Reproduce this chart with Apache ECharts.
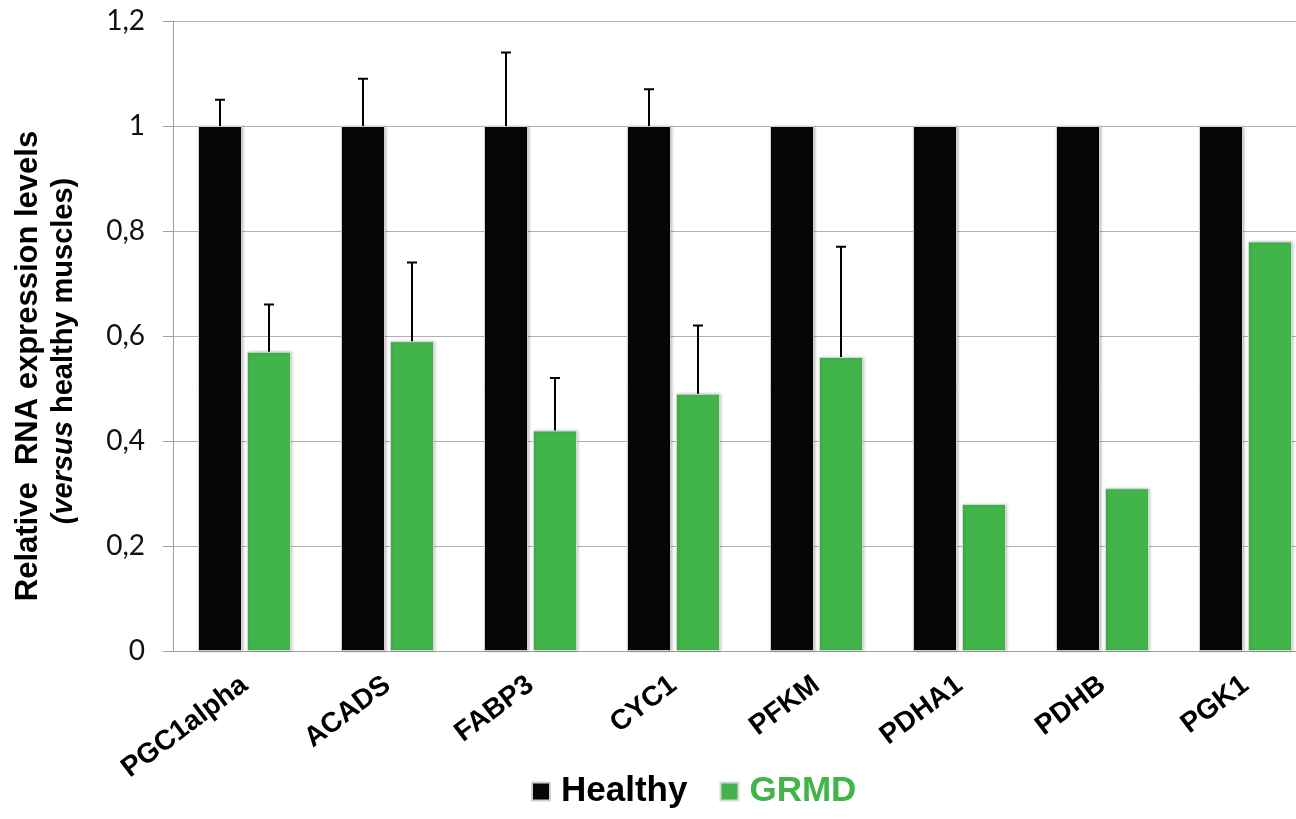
<!DOCTYPE html>
<html><head><meta charset="utf-8">
<script src="https://cdn.jsdelivr.net/npm/echarts@6/dist/echarts.min.js"></script>
<style>html,body{margin:0;padding:0;background:#fff}#c{width:1296px;height:819px}</style>
</head><body><div id="c"></div>
<script>
const categories = ['PGC1alpha','ACADS','FABP3','CYC1','PFKM','PDHA1','PDHB','PGK1'];
const healthy = [1,1,1,1,1,1,1,1];
const healthyErr = [0.05,0.09,0.14,0.07,null,null,null,null];
const grmd = [0.57,0.59,0.42,0.49,0.56,0.28,0.31,0.78];
const grmdErr = [0.09,0.15,0.10,0.13,0.21,null,null,null];
const yTicks = [0,0.2,0.4,0.6,0.8,1,1.2];

const BAR_W = 44, GAP = 5;
function errSeries(vals, errs, side) {
  return {
    type: 'custom', z: 5, silent: true,
    data: vals.map((v, i) => [i, v, errs[i]]),
    renderItem: function (params, api) {
      const e = api.value(2);
      if (e === null || e === undefined || isNaN(e)) return;
      const i = api.value(0), v = api.value(1);
      const p0 = api.coord([i, v]);
      const p1 = api.coord([i, v + e]);
      const x = p0[0] + side * (BAR_W + GAP) / 2;
      return { type: 'group', children: [
        { type: 'line', shape: { x1: x, y1: p0[1], x2: x, y2: p1[1] }, style: { stroke: '#000', lineWidth: 2 } },
        { type: 'line', shape: { x1: x - 5, y1: p1[1], x2: x + 5, y2: p1[1] }, style: { stroke: '#000', lineWidth: 2 } }
      ]};
    }
  };
}

const F = 'Liberation Sans, Arial, sans-serif';
const chart = echarts.init(document.getElementById('c'));
chart.setOption({
  animation: false,
  backgroundColor: '#fff',
  grid: { left: 173, right: -21, top: 21, bottom: 168, containLabel: false, outerBoundsMode: 'none' },
  legend: {
    bottom: 5, left: 526, itemWidth: 18, itemHeight: 18, itemGap: 32,
    icon: 'rect',
    textStyle: { fontFamily: F, fontWeight: 'bold', fontSize: 35, padding: [0, 0, 0, 6] },
    data: [
      { name: 'Healthy', textStyle: { color: '#000' } },
      { name: 'GRMD', textStyle: { color: '#41b549' } }
    ]
  },
  xAxis: {
    type: 'category', data: categories,
    axisLine: { lineStyle: { color: '#a0a0a0', width: 1 } },
    axisTick: { length: 10, lineStyle: { color: '#a0a0a0' } },
    axisLabel: { rotate: 37, margin: 31, color: '#000', fontFamily: F, fontWeight: 'bold', fontSize: 28 }
  },
  yAxis: {
    type: 'value', min: 0, max: 1.2, interval: 0.2,
    name: '{a|Relative  RNA expression levels}\n{i|(versus}{b| healthy muscles)}',
    nameLocation: 'middle', nameRotate: 90, nameGap: 92,
    nameTextStyle: {
      lineHeight: 35, padding: [0, 30, 0, 0],
      rich: {
        a: { fontFamily: F, fontWeight: 'bold', fontSize: 31, color: '#000', lineHeight: 35, padding: [0, 30, 0, 0] },
        b: { fontFamily: F, fontWeight: 'bold', fontSize: 29, color: '#000', lineHeight: 35 },
        i: { fontFamily: F, fontWeight: 'bold', fontStyle: 'italic', fontSize: 29, color: '#000', lineHeight: 35 }
      }
    },
    axisLine: { show: true, lineStyle: { color: '#a0a0a0' } },
    axisTick: { show: true, length: 10, lineStyle: { color: '#a0a0a0' } },
    splitLine: { lineStyle: { color: '#b0b0b0', width: 1 } },
    axisLabel: {
      margin: 28, color: '#111', fontFamily: 'Lato, sans-serif', fontSize: 28,
      formatter: v => { const t = yTicks.find(x => Math.abs(x - v) < 1e-9); return String(t !== undefined ? t : v).replace('.', ','); }
    }
  },
  series: [
    { name: 'Healthy', type: 'bar', data: healthy, barWidth: BAR_W, barGap: (GAP / BAR_W * 100) + '%',
      itemStyle: { color: '#040706', borderColor: '#d0d0d0', borderWidth: 1, shadowColor: 'rgba(0,0,0,0.25)', shadowBlur: 3, shadowOffsetX: 1 } },
    { name: 'GRMD', type: 'bar', data: grmd, barWidth: BAR_W,
      itemStyle: { color: '#41b549', borderColor: '#d8d8d8', borderWidth: 1, shadowColor: 'rgba(0,0,0,0.2)', shadowBlur: 3, shadowOffsetX: 1 } },
    errSeries(healthy, healthyErr, -1),
    errSeries(grmd, grmdErr, 1)
  ]
});
</script></body></html>
